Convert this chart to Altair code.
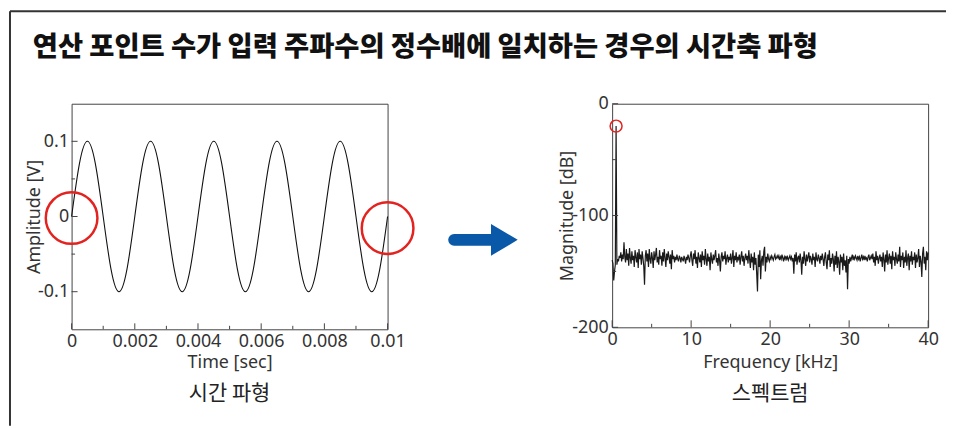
import altair as alt
import pandas as pd

TITLE = "연산 포인트 수가 입력 주파수의 정수배에 일치하는 경우의 시간축 파형"
LEFT_CAPTION = "시간 파형"
RIGHT_CAPTION = "스펙트럼"

# time waveform samples (1/8 cycle spacing, 5 cycles in 0.01 s)
time_s = [0, 0.00025, 0.0005, 0.00075, 0.001, 0.00125, 0.0015, 0.00175,
          0.002, 0.00225, 0.0025, 0.00275, 0.003, 0.00325, 0.0035, 0.00375,
          0.004, 0.00425, 0.0045, 0.00475, 0.005, 0.00525, 0.0055, 0.00575,
          0.006, 0.00625, 0.0065, 0.00675, 0.007, 0.00725, 0.0075, 0.00775,
          0.008, 0.00825, 0.0085, 0.00875, 0.009, 0.00925, 0.0095, 0.00975, 0.01]
amp_v = [0, 0.0707, 0.1, 0.0707, 0, -0.0707, -0.1, -0.0707,
         0, 0.0707, 0.1, 0.0707, 0, -0.0707, -0.1, -0.0707,
         0, 0.0707, 0.1, 0.0707, 0, -0.0707, -0.1, -0.0707,
         0, 0.0707, 0.1, 0.0707, 0, -0.0707, -0.1, -0.0707,
         0, 0.0707, 0.1, 0.0707, 0, -0.0707, -0.1, -0.0707, 0]

# spectrum, 0.1 kHz bins from 0 to 40 kHz
freq_khz = [round(i * 0.1, 1) for i in range(401)]
mag_db = [
    -140, -143, -158, -150, -144, -20, -144, -139, -141, -136,
    -138, -133, -141, -135, -139, -124, -137, -142, -130, -140,
    -134, -145, -129, -138, -143, -132, -140, -136, -146, -131,
    -137, -142, -133, -147, -130, -139, -135, -144, -132, -138,
    -145, -162, -136, -131, -141, -134, -146, -130, -139, -143,
    -133, -138, -147, -132, -140, -135, -129, -142, -137, -144,
    -131, -139, -136, -145, -133, -141, -130, -138, -146, -134,
    -140, -132, -137, -143, -135, -148, -131, -139, -136, -142,
    -137, -140, -135, -139, -141, -136, -138, -142, -137, -139,
    -141, -136, -139, -143, -137, -140, -135, -138, -142, -136,
    -132, -140, -145, -134, -139, -131, -143, -137, -147, -133,
    -138, -142, -135, -146, -132, -140, -136, -144, -130, -139,
    -145, -134, -141, -137, -149, -133, -139, -143, -135, -140,
    -136, -131, -142, -138, -145, -134, -140, -150, -137, -133,
    -141, -136, -139, -132, -144, -138, -135, -142, -137, -140,
    -134, -143, -138, -131, -146, -136, -140, -133, -142, -137,
    -139, -135, -144, -137, -132, -141, -136, -145, -138, -134,
    -140, -136, -143, -131, -139, -147, -134, -142, -137, -149,
    -133, -144, -138, -152, -168, -135, -146, -131, -157, -140,
    -136, -145, -132, -128, -150, -137, -142, -134, -139, -141,
    -137, -139, -136, -138, -140, -137, -135, -139, -138, -136,
    -138, -136, -140, -137, -139, -135, -138, -141, -137, -139,
    -136, -139, -137, -140, -138, -136, -139, -137, -141, -138,
    -152, -135, -141, -133, -144, -138, -136, -142, -134, -140,
    -153, -137, -143, -132, -139, -145, -135, -141, -137, -133,
    -142, -136, -139, -144, -134, -140, -137, -146, -133, -139,
    -141, -135, -138, -143, -136, -140, -134, -139, -145, -137,
    -133, -142, -148, -135, -140, -131, -146, -138, -143, -134,
    -139, -150, -136, -144, -132, -147, -137, -141, -153, -135,
    -142, -137, -149, -134, -145, -140, -151, -136, -166, -139,
    -143, -137, -141, -138, -135, -140, -137, -139, -136, -138,
    -140, -136, -139, -137, -141, -138, -135, -139, -137, -140,
    -136, -139, -138, -141, -137, -135, -140, -138, -136, -139,
    -134, -142, -137, -145, -132, -140, -136, -143, -138, -135,
    -141, -137, -146, -133, -139, -150, -135, -142, -131, -144,
    -138, -134, -143, -136, -148, -132, -140, -137, -145, -133,
    -139, -143, -135, -141, -128, -146, -136, -140, -133, -147,
    -137, -142, -131, -145, -138, -134, -149, -136, -141, -132,
    -144, -137, -140, -133, -147, -135, -142, -138, -130, -146,
    -136, -141, -155, -134, -128, -143, -137, -149, -132, -140,
    -133,
]

time_major = [0, 0.002, 0.004, 0.006, 0.008, 0.01]
time_minor = [0.001, 0.003, 0.005, 0.007, 0.009]
amp_major = [-0.1, 0, 0.1]
amp_minor = [-0.05, 0.05]
freq_major = [0, 10, 20, 30, 40]
freq_minor = [5, 15, 25, 35]
mag_major = [-200, -100, 0]
mag_minor = [-150, -50]

mark_t = [0, 0.01]
mark_a = [-0.002, -0.0155]
peak_f = [0.5]
peak_db = [-20]

W = 318
HL = 227
HR = 225
AXC = "#444"
TXT = "#333"
RED = "#e3231f"
BLUE = "#0a58a8"
LBL = "replace(format(datum.value, '~g'), '\u2212', '-')"

sine_df = pd.DataFrame({"t": time_s, "a": amp_v})
spec_df = pd.DataFrame({"f": freq_khz, "m": mag_db})


def one(txt):
    return pd.DataFrame({"s": [txt]})


def axis(values, title, **kw):
    return alt.Axis(values=values, title=title, ticks=False, tickSize=0, domain=False, grid=False,
                    labelExpr=LBL, labelFlush=False, labelOverlap=False, **kw)


# ---------------- left panel ----------------
xs_l = alt.Scale(domain=[0, 0.01], nice=False, zero=False)
ys_l = alt.Scale(domain=[-0.15, 0.15], nice=False, zero=False)
ax_lx = axis(time_major, "Time [sec]", labelPadding=3, titleX=W / 2, titleY=38,
             titleAlign="center", titleBaseline="alphabetic")
ax_ly = axis(amp_major, "Amplitude [V]", labelPadding=3, titleX=-32, titleY=HL / 2,
             titleAngle=270, titleAlign="center", titleBaseline="alphabetic")

sine = alt.Chart(sine_df).mark_line(color="#111", strokeWidth=1.1, interpolate="natural").encode(
    x=alt.X("t:Q", scale=xs_l, axis=ax_lx),
    y=alt.Y("a:Q", scale=ys_l, axis=ax_ly),
)

lx_major = alt.Chart(pd.DataFrame({"t": time_major})).mark_rule(color=AXC, strokeWidth=1).encode(
    x=alt.X("t:Q", scale=xs_l, axis=ax_lx), y=alt.value(HL), y2=alt.value(HL - 6))
lx_minor = alt.Chart(pd.DataFrame({"t": time_minor})).mark_rule(color=AXC, strokeWidth=1).encode(
    x=alt.X("t:Q", scale=xs_l, axis=ax_lx), y=alt.value(HL), y2=alt.value(HL - 3.5))
ly_major = alt.Chart(pd.DataFrame({"a": amp_major})).mark_rule(color=AXC, strokeWidth=1).encode(
    y=alt.Y("a:Q", scale=ys_l, axis=ax_ly), x=alt.value(0), x2=alt.value(6))
ly_minor = alt.Chart(pd.DataFrame({"a": amp_minor})).mark_rule(color=AXC, strokeWidth=1).encode(
    y=alt.Y("a:Q", scale=ys_l, axis=ax_ly), x=alt.value(0), x2=alt.value(3.5))

circles = alt.Chart(pd.DataFrame({"t": mark_t, "a": mark_a})).mark_point(
    shape="circle", size=2704, filled=False, stroke=RED, strokeWidth=2.5, opacity=1).encode(
    x=alt.X("t:Q", scale=xs_l, axis=ax_lx), y=alt.Y("a:Q", scale=ys_l, axis=ax_ly))

frame_v = alt.Chart(one("v")).mark_rule(color="#333", strokeWidth=2).encode(
    x=alt.value(-62), y=alt.value(-93), y2=alt.value(324))
frame_h = alt.Chart(one("h")).mark_rule(color="#333", strokeWidth=2).encode(
    x=alt.value(-62), x2=alt.value(880), y=alt.value(-93))

title = alt.Chart(one(TITLE)).mark_text(
    align="left", baseline="middle", font="Noto Sans CJK KR", fontSize=27.5, fontWeight=900,
    color="#111").encode(text="s:N", x=alt.value(-39), y=alt.value(-56))

cap_l = alt.Chart(one(LEFT_CAPTION)).mark_text(
    align="center", baseline="middle", font="Noto Sans CJK KR", fontSize=21, color="#222").encode(
    text="s:N", x=alt.value(W / 2), y=alt.value(292))

shaft = alt.Chart(one("a")).mark_rule(color=BLUE, strokeWidth=12, strokeCap="round").encode(
    x=alt.value(385), x2=alt.value(424), y=alt.value(137))
head = alt.Chart(one("b")).mark_point(
    shape="M-0.84,-1L0.84,0L-0.84,1Z", size=1024, filled=True, color=BLUE, opacity=1).encode(
    x=alt.value(435.5), y=alt.value(137))

left = alt.layer(sine, lx_major, lx_minor, ly_major, ly_minor, circles,
                 frame_v, frame_h, title, cap_l, shaft, head).properties(width=W, height=HL)

# ---------------- right panel ----------------
xs_r = alt.Scale(domain=[0, 40], nice=False, zero=False)
ys_r = alt.Scale(domain=[-200, 0], nice=False, zero=False)
ax_rx = axis(freq_major, "Frequency [kHz]", labelPadding=3, titleX=W / 2, titleY=40,
             titleAlign="center", titleBaseline="alphabetic")
ax_ry = axis(mag_major, "Magnitude [dB]", labelPadding=4, titleX=-40, titleY=HR / 2,
             titleAngle=270, titleAlign="center", titleBaseline="alphabetic")

spec = alt.Chart(spec_df).mark_line(color="#1a1a1a", strokeWidth=1.2).encode(
    x=alt.X("f:Q", scale=xs_r, axis=ax_rx),
    y=alt.Y("m:Q", scale=ys_r, axis=ax_ry),
)

rx_major = alt.Chart(pd.DataFrame({"f": freq_major})).mark_rule(color=AXC, strokeWidth=1).encode(
    x=alt.X("f:Q", scale=xs_r, axis=ax_rx), y=alt.value(HR), y2=alt.value(HR - 7))
rx_minor = alt.Chart(pd.DataFrame({"f": freq_minor})).mark_rule(color=AXC, strokeWidth=1).encode(
    x=alt.X("f:Q", scale=xs_r, axis=ax_rx), y=alt.value(HR), y2=alt.value(HR - 3.5))
ry_major = alt.Chart(pd.DataFrame({"m": mag_major})).mark_rule(color=AXC, strokeWidth=1).encode(
    y=alt.Y("m:Q", scale=ys_r, axis=ax_ry), x=alt.value(0), x2=alt.value(6))
ry_minor = alt.Chart(pd.DataFrame({"m": mag_minor})).mark_rule(color=AXC, strokeWidth=1).encode(
    y=alt.Y("m:Q", scale=ys_r, axis=ax_ry), x=alt.value(0), x2=alt.value(4))

peak = alt.Chart(pd.DataFrame({"f": peak_f, "m": peak_db})).mark_point(
    shape="circle", size=144, filled=False, stroke=RED, strokeWidth=1.5, opacity=1).encode(
    x=alt.X("f:Q", scale=xs_r, axis=ax_rx), y=alt.Y("m:Q", scale=ys_r, axis=ax_ry))

cap_r = alt.Chart(one(RIGHT_CAPTION)).mark_text(
    align="center", baseline="middle", font="Noto Sans CJK KR", fontSize=21, color="#222").encode(
    text="s:N", x=alt.value(W / 2), y=alt.value(292))

right = alt.layer(spec, rx_major, rx_minor, ry_major, ry_minor, peak, cap_r).properties(
    width=W, height=HR)

chart = alt.hconcat(left, right, spacing=226, bounds="flush").properties(
    padding=0, background="white"
).configure_view(stroke=AXC, strokeWidth=1).configure_axis(
    labelFont="Noto Sans", labelFontSize=18, labelColor=TXT,
    titleFont="Noto Sans", titleFontSize=18, titleFontWeight="normal", titleColor=TXT,
)

chart.save("out.html", embed_options={"renderer": "svg", "actions": False})
